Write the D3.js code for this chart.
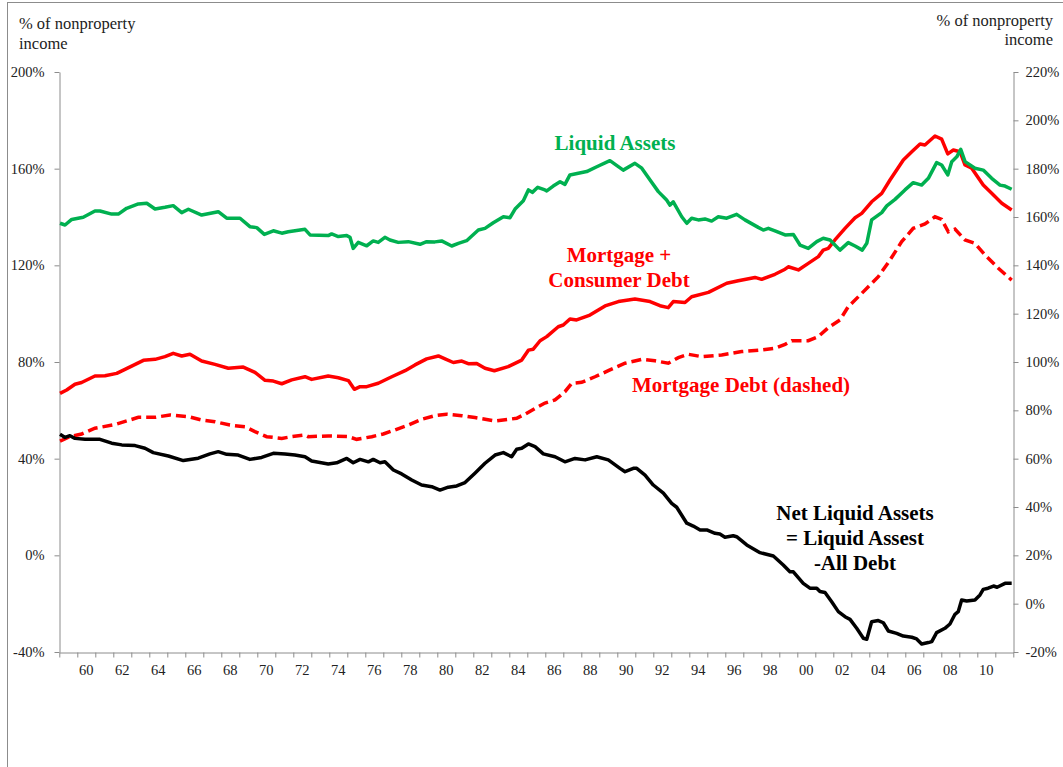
<!DOCTYPE html>
<html>
<head>
<meta charset="utf-8">
<script src="https://cdn.jsdelivr.net/npm/d3@7"></script>
<style>
  html, body { margin: 0; padding: 0; background: #fff; }
  svg { display: block; }
  .axis text { font-family: "Liberation Serif", "Times New Roman", serif; font-size: 14.5px; fill: #222; }
  .axis path, .axis line { stroke: #8c8c8c; }
  .title { font-family: "Liberation Serif", "Times New Roman", serif; font-size: 16.5px; fill: #222; }
  .note { font-family: "Liberation Serif", "Times New Roman", serif; font-size: 21px; font-weight: bold; }
</style>
</head>
<body>
<svg id="chart" width="1063" height="767"></svg>
<script>
// [year, % of nonproperty income]
var liquidAssets = [
  [1959.04,137.4],[1959.32,136.7],[1959.69,139.0],[1960.33,139.9],[1960.98,142.5],[1961.26,142.5],
  [1961.91,141.2],[1962.28,141.2],[1962.74,143.6],[1963.39,145.4],[1963.86,145.7],[1964.32,143.3],
  [1964.87,144.0],[1965.33,144.7],[1965.80,141.8],[1966.17,143.2],[1966.91,140.8],[1967.83,142.2],
  [1968.30,139.5],[1969.04,139.5],[1969.59,136.0],[1969.97,135.6],[1970.39,132.8],[1970.89,134.3],
  [1971.36,133.3],[1971.72,133.9],[1972.65,134.9],[1972.93,132.6],[1973.94,132.3],[1974.13,133.0],
  [1974.50,131.9],[1974.97,132.3],[1975.15,131.6],[1975.33,127.0],[1975.61,129.5],[1976.08,128.1],
  [1976.44,130.1],[1976.72,129.5],[1977.09,131.6],[1977.37,130.5],[1977.83,129.5],[1978.39,129.8],
  [1979.04,128.7],[1979.41,129.8],[1979.87,129.7],[1980.24,130.1],[1980.80,128.0],[1981.17,129.1],
  [1981.63,130.2],[1982.28,134.6],[1982.65,135.3],[1983.11,137.6],[1983.67,140.1],[1984.04,139.7],
  [1984.32,143.3],[1984.78,146.7],[1985.06,151.2],[1985.28,150.2],[1985.58,152.3],[1985.98,151.2],
  [1986.08,150.8],[1986.44,152.8],[1986.82,154.6],[1987.09,153.5],[1987.37,157.4],[1988.30,158.8],
  [1988.86,160.8],[1989.59,163.3],[1990.33,159.4],[1990.98,162.2],[1991.36,160.2],[1991.82,155.3],
  [1992.28,150.5],[1992.74,147.0],[1992.93,144.9],[1993.11,146.3],[1993.58,140.1],[1993.86,137.4],
  [1994.13,139.5],[1994.50,138.8],[1994.87,139.2],[1995.24,138.3],[1995.61,140.1],[1996.08,139.5],
  [1996.63,141.1],[1997.09,138.8],[1997.83,135.7],[1998.11,134.6],[1998.39,135.3],[1998.76,134.3],
  [1999.32,132.6],[1999.78,132.8],[2000.15,128.4],[2000.61,127.0],[2001.08,129.8],[2001.44,131.2],
  [2001.82,130.5],[2002.37,126.3],[2002.83,129.4],[2003.21,128.0],[2003.61,126.3],[2003.86,129.1],
  [2004.13,138.8],[2004.69,141.8],[2004.97,144.6],[2005.43,147.3],[2005.98,151.2],[2006.44,154.2],
  [2006.91,153.2],[2007.28,156.0],[2007.74,162.5],[2008.02,161.5],[2008.36,157.4],[2008.58,162.9],
  [2008.86,164.9],[2009.08,168.0],[2009.32,162.9],[2009.87,160.2],[2010.33,159.4],[2010.80,156.0],
  [2011.26,153.2],[2011.54,152.8],[2011.91,151.5]
];

var allDebt = [
  [1959.04,67.0],[1959.41,68.4],[1959.87,70.8],[1960.24,71.5],[1960.98,74.2],[1961.54,74.3],
  [1962.19,75.3],[1963.02,78.3],[1963.67,80.7],[1964.32,81.1],[1964.87,82.2],[1965.33,83.6],
  [1965.80,82.5],[1966.26,83.2],[1966.91,80.4],[1967.65,79.0],[1968.39,77.4],[1969.22,77.9],
  [1969.87,75.7],[1970.43,72.4],[1970.89,72.1],[1971.36,71.0],[1971.91,72.6],[1972.65,73.9],
  [1973.02,72.8],[1973.94,74.2],[1974.50,73.5],[1975.06,72.3],[1975.39,68.7],[1975.71,69.8],
  [1976.08,69.8],[1976.72,71.2],[1977.47,73.9],[1978.21,76.4],[1978.76,78.8],[1979.41,81.3],
  [1980.06,82.5],[1980.43,81.3],[1980.89,79.8],[1981.36,80.4],[1981.72,79.3],[1982.19,79.4],
  [1982.65,77.4],[1983.17,76.4],[1983.94,78.1],[1984.69,80.8],[1985.06,84.9],[1985.33,85.3],
  [1985.71,88.8],[1986.08,90.5],[1986.72,94.6],[1987.00,95.3],[1987.37,97.8],[1987.74,97.4],
  [1988.48,99.4],[1989.32,103.2],[1990.06,105.0],[1990.98,106.1],[1991.82,105.0],[1992.37,103.3],
  [1992.83,102.5],[1993.11,105.0],[1993.76,104.6],[1994.13,107.0],[1995.06,108.8],[1996.08,112.6],
  [1996.72,113.6],[1997.65,115.0],[1998.02,114.2],[1998.76,116.3],[1999.32,118.4],[1999.50,119.4],
  [2000.06,118.1],[2000.61,120.8],[2001.17,123.6],[2001.44,126.3],[2001.72,127.0],[2002.09,130.5],
  [2002.65,135.3],[2003.21,139.7],[2003.58,141.5],[2004.13,146.3],[2004.69,149.8],[2005.15,155.3],
  [2005.89,163.6],[2006.36,167.0],[2006.82,170.2],[2007.09,169.8],[2007.65,173.5],[2008.02,172.2],
  [2008.36,166.1],[2008.67,167.7],[2009.04,167.0],[2009.32,161.5],[2009.69,160.2],[2010.33,153.2],
  [2010.80,149.8],[2011.36,145.7],[2011.91,142.9]
];

var mortgageDebt = [
  [1959.04,47.3],[1959.59,49.1],[1960.24,50.2],[1960.98,52.6],[1962.09,54.1],[1963.39,57.1],
  [1964.32,57.1],[1965.15,58.1],[1966.17,57.4],[1966.91,56.0],[1967.65,55.3],[1968.48,53.9],
  [1969.32,53.2],[1969.87,51.2],[1970.52,49.1],[1971.36,48.4],[1971.91,49.1],[1972.65,49.8],
  [1972.83,49.1],[1973.94,49.4],[1975.06,49.1],[1975.52,48.0],[1976.36,49.1],[1977.00,50.2],
  [1977.65,51.9],[1978.39,53.9],[1979.13,56.3],[1979.87,57.8],[1980.52,58.4],[1981.36,57.8],
  [1982.09,57.0],[1983.21,55.6],[1984.41,56.7],[1984.87,58.4],[1985.43,60.8],[1985.98,63.0],
  [1986.54,64.3],[1987.09,67.7],[1987.47,71.2],[1988.02,71.6],[1988.76,73.9],[1989.50,76.4],
  [1990.43,79.5],[1991.36,81.1],[1992.09,80.5],[1992.83,79.5],[1993.39,81.8],[1993.94,83.2],
  [1994.69,82.2],[1995.80,82.9],[1996.91,84.3],[1998.02,85.0],[1998.76,85.7],[1999.32,87.3],
  [1999.69,88.8],[2000.61,88.8],[2001.17,90.5],[2001.72,94.2],[2002.37,97.4],[2002.83,102.9],
  [2003.58,108.4],[2004.50,115.3],[2005.15,122.2],[2005.80,129.8],[2006.44,135.3],[2007.09,137.1],
  [2007.65,140.1],[2008.02,139.0],[2008.39,133.9],[2008.76,135.0],[2009.32,130.5],[2009.87,129.1],
  [2010.43,124.3],[2011.17,118.8],[2011.91,113.9]
];

// right-hand axis
var netLiquidAssets = [
  [1959.04,70.1],[1959.32,68.8],[1959.59,69.5],[1959.87,68.4],[1960.43,68.0],[1961.26,68.0],
  [1961.91,66.4],[1962.47,65.7],[1963.21,65.4],[1963.76,64.3],[1964.22,62.5],[1965.06,61.1],
  [1965.89,59.2],[1966.72,60.2],[1967.37,62.0],[1967.83,62.9],[1968.30,61.8],[1968.94,61.5],
  [1969.59,59.7],[1970.24,60.5],[1970.89,62.2],[1971.54,61.9],[1972.09,61.5],[1972.65,60.8],
  [1973.02,59.0],[1973.94,57.8],[1974.41,58.3],[1974.97,60.1],[1975.33,58.3],[1975.71,59.7],
  [1976.17,58.7],[1976.44,59.7],[1976.82,58.3],[1977.09,58.7],[1977.56,55.3],[1978.02,53.7],
  [1978.58,51.2],[1979.13,49.1],[1979.69,48.4],[1980.15,47.0],[1980.61,48.2],[1981.08,48.7],
  [1981.54,50.1],[1982.09,54.0],[1982.65,58.1],[1983.21,61.5],[1983.67,62.5],[1984.13,60.8],
  [1984.41,63.9],[1984.69,64.3],[1985.06,66.1],[1985.43,65.0],[1985.89,62.0],[1986.54,60.8],
  [1987.09,58.7],[1987.65,60.1],[1988.21,59.5],[1988.86,60.8],[1989.50,59.5],[1990.15,56.0],
  [1990.43,54.6],[1990.89,56.0],[1991.08,56.0],[1991.54,53.2],[1992.00,49.1],[1992.56,45.7],
  [1993.02,41.5],[1993.30,39.9],[1993.86,33.3],[1994.22,32.1],[1994.60,30.5],[1994.97,30.5],
  [1995.43,29.1],[1995.70,28.8],[1995.98,27.5],[1996.44,28.1],[1996.63,27.7],[1997.19,24.3],
  [1997.93,21.1],[1998.67,19.7],[1999.22,16.0],[1999.59,13.2],[1999.78,13.2],[2000.33,8.4],
  [2000.70,6.4],[2001.08,6.4],[2001.26,5.0],[2001.54,4.6],[2001.91,0.8],[2002.28,-3.3],
  [2002.65,-5.4],[2002.93,-6.5],[2003.30,-10.2],[2003.67,-14.3],[2003.86,-14.7],[2004.13,-7.5],
  [2004.50,-7.0],[2004.78,-7.9],[2005.06,-11.3],[2005.52,-12.3],[2005.89,-13.4],[2006.36,-13.9],
  [2006.63,-14.6],[2006.91,-16.7],[2007.28,-16.1],[2007.47,-15.7],[2007.74,-12.0],[2008.20,-10.2],
  [2008.48,-8.4],[2008.76,-4.4],[2008.94,-3.3],[2009.13,1.5],[2009.41,1.1],[2009.87,1.5],
  [2010.15,3.6],[2010.33,5.9],[2010.60,6.4],[2010.90,7.3],[2011.10,6.8],[2011.54,8.4],[2011.91,8.4]
];

var leftTicks = [-40, 0, 40, 80, 120, 160, 200];
var rightTicks = [-20, 0, 20, 40, 60, 80, 100, 120, 140, 160, 180, 200, 220];
var yearLabels = ["60","62","64","66","68","70","72","74","76","78","80","82","84","86","88","90","92","94","96","98","00","02","04","06","08","10"];
var firstYear = 1959, lastYear = 2012;

var svg = d3.select("svg#chart");

// frame round the chart object
svg.append("rect")
  .attr("x", 7.5).attr("y", 2.5)
  .attr("width", 1100).attr("height", 800)
  .attr("fill", "none").attr("stroke", "#8c8c8c");

var x = d3.scaleLinear().domain([firstYear, lastYear]).range([59.3, 1013.3]);
var yL = d3.scaleLinear().domain([-40, 200]).range([652, 72]);
var yR = d3.scaleLinear().domain([-20, 220]).range([652, 72]);

// axes
svg.append("g")
  .attr("class", "axis")
  .attr("transform", "translate(59.5,0)")
  .call(d3.axisLeft(yL).tickValues(leftTicks).tickSize(5).tickSizeOuter(0).tickPadding(10)
    .tickFormat(function(d) { return d + "%"; }));

svg.append("g")
  .attr("class", "axis")
  .attr("transform", "translate(1013.5,0)")
  .call(d3.axisRight(yR).tickValues(rightTicks).tickSize(5).tickSizeOuter(0).tickPadding(7)
    .tickFormat(function(d) { return d + "%"; }));

var years = d3.range(firstYear, lastYear + 1);
svg.append("g")
  .attr("class", "axis")
  .attr("transform", "translate(0,652.5)")
  .call(d3.axisBottom(x).tickValues(years).tickSize(5).tickSizeOuter(0).tickFormat(""));

svg.append("g")
  .attr("class", "axis")
  .selectAll("text")
  .data(yearLabels)
  .enter().append("text")
  .attr("x", function(d, i) { return x(1960 + 2 * i + 0.5); })
  .attr("y", 675)
  .attr("text-anchor", "middle")
  .text(function(d) { return d; });

// axis titles
var lt = svg.append("text").attr("class", "title").attr("x", 19);
lt.append("tspan").attr("x", 19).attr("y", 29).text("% of nonproperty");
lt.append("tspan").attr("x", 19).attr("y", 49).text("income");
var rt = svg.append("text").attr("class", "title").attr("text-anchor", "end");
rt.append("tspan").attr("x", 1053).attr("y", 26).text("% of nonproperty");
rt.append("tspan").attr("x", 1053).attr("y", 45).text("income");

// series
function lineOn(y) {
  return d3.line()
    .x(function(d) { return x(d[0]); })
    .y(function(d) { return y(d[1]); });
}

svg.append("path").datum(mortgageDebt)
  .attr("d", lineOn(yL))
  .attr("fill", "none").attr("stroke", "#ff0000").attr("stroke-width", 3.5)
  .attr("stroke-dasharray", "10,5");

svg.append("path").datum(allDebt)
  .attr("d", lineOn(yL))
  .attr("fill", "none").attr("stroke", "#ff0000").attr("stroke-width", 3.5)
  .attr("stroke-linejoin", "round");

svg.append("path").datum(liquidAssets)
  .attr("d", lineOn(yL))
  .attr("fill", "none").attr("stroke", "#00b050").attr("stroke-width", 3.5)
  .attr("stroke-linejoin", "round");

svg.append("path").datum(netLiquidAssets)
  .attr("d", lineOn(yR))
  .attr("fill", "none").attr("stroke", "#000").attr("stroke-width", 3.5)
  .attr("stroke-linejoin", "round");

// annotations
function note(lines, cx, y0, dy, color) {
  var t = svg.append("text").attr("class", "note").attr("text-anchor", "middle").attr("fill", color);
  lines.forEach(function(s, i) {
    t.append("tspan").attr("x", cx).attr("y", y0 + i * dy).text(s);
  });
}
note(["Liquid Assets"], 615, 150, 0, "#00b050");
note(["Mortgage +", "Consumer Debt"], 619, 262, 25, "#ff0000");
note(["Mortgage Debt (dashed)"], 741, 392, 0, "#ff0000");
note(["Net Liquid Assets", "= Liquid Assest", "-All Debt"], 855, 520, 25, "#000");
</script>
</body>
</html>
